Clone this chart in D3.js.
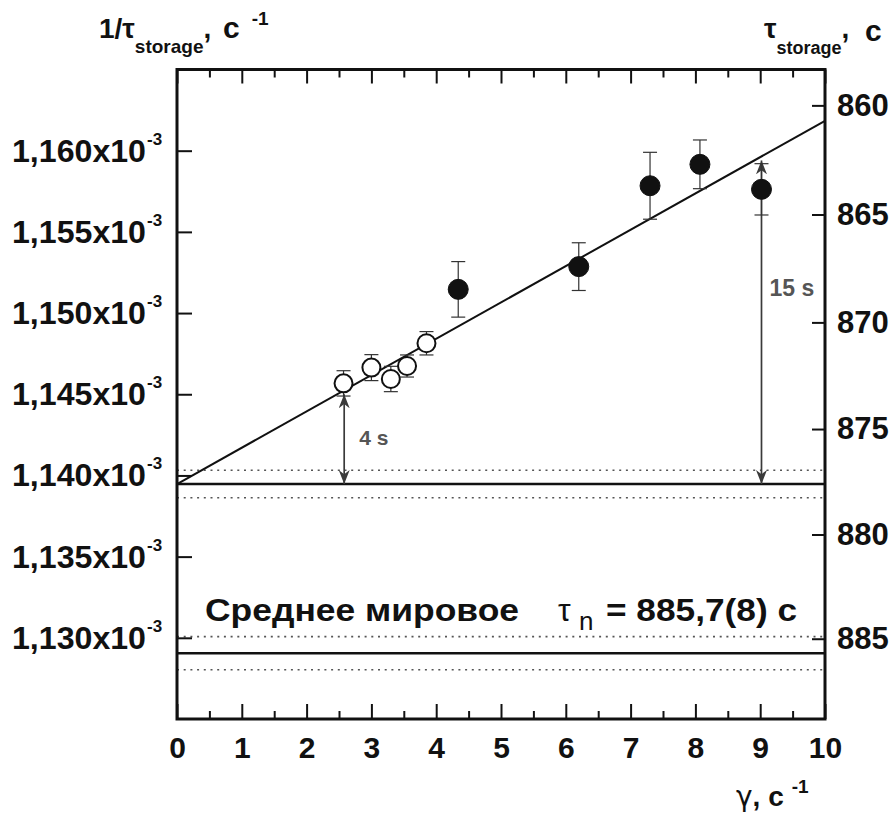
<!DOCTYPE html>
<html><head><meta charset="utf-8">
<script src="https://cdn.jsdelivr.net/npm/d3@7"></script>
<style>body{margin:0;background:#fff}svg{display:block}text{font-family:"Liberation Sans",Arial,sans-serif}</style>
</head><body>
<svg id="c" width="896" height="823"></svg>
<script>
// ---- data ----
const gammaOpen = [2.57, 3.00, 3.30, 3.55, 3.85];
const rateOpen  = [1.14567e-3, 1.14664e-3, 1.14594e-3, 1.14674e-3, 1.14814e-3];
const errOpen   = [0.00078e-3, 0.00080e-3, 0.00078e-3, 0.00068e-3, 0.00072e-3];
const gammaFilled = [4.34, 6.20, 7.30, 8.07, 9.02];
const rateFilled  = [1.15146e-3, 1.15286e-3, 1.15784e-3, 1.15916e-3, 1.15762e-3];
const errFilled   = [0.00171e-3, 0.00147e-3, 0.00206e-3, 0.00150e-3, 0.00158e-3];
const fitIntercept = 1 / 877.6;     // 1/tau at gamma = 0
const fitSlope = 2.237e-6;          // per unit gamma
const tauExtrap = 877.6, dTauExtrap = 0.65;
const tauWorld = 885.7, dTauWorld = 0.8;
const leftTicks = [1.130e-3, 1.135e-3, 1.140e-3, 1.145e-3, 1.150e-3, 1.155e-3, 1.160e-3];
const leftTickLabels = ["1,130x10", "1,135x10", "1,140x10", "1,145x10", "1,150x10", "1,155x10", "1,160x10"];
const rightTicks = [860, 865, 870, 875, 880, 885];
const xTicks = [0,1,2,3,4,5,6,7,8,9,10];
const xMinor = [0.5,1.5,2.5,3.5,4.5,5.5,6.5,7.5,8.5,9.5];
const arrows = [{g: 2.58, label: "4 s"}, {g: 9.02, label: "15 s"}];

// ---- layout ----
const L = 177, R = 825, T = 69.5, B = 719;
const x = d3.scaleLinear().domain([0, 10]).range([L, R]);
const y = d3.scaleLinear().domain([1.125e-3, 1.165e-3]).range([B, T]);
const svg = d3.select("#c");
svg.append("rect").attr("width", 896).attr("height", 823).attr("fill", "#fff");

const defs = svg.append("defs");
defs.append("marker").attr("id", "ah").attr("viewBox", "0 0 10 10").attr("refX", 10).attr("refY", 5)
  .attr("markerWidth", 14).attr("markerHeight", 11).attr("markerUnits", "userSpaceOnUse")
  .attr("orient", "auto-start-reverse").attr("preserveAspectRatio", "none")
  .append("path").attr("d", "M0,0 L10,5 L0,10 L3,5 Z").attr("fill", "#3a3a3a");

// horizontal reference lines
function hline(v, dotted) {
  svg.append("line").attr("x1", L).attr("x2", R).attr("y1", y(v)).attr("y2", y(v))
    .attr("stroke", dotted ? "#555" : "#111").attr("stroke-width", dotted ? 1.6 : 2.4)
    .attr("stroke-dasharray", dotted ? "2,4.7" : null);
}
hline(1 / tauExtrap, false);
hline(1 / (tauExtrap - dTauExtrap), true);
hline(1 / (tauExtrap + dTauExtrap), true);
hline(1 / tauWorld, false);
hline(1 / (tauWorld - dTauWorld), true);
hline(1 / (tauWorld + dTauWorld), true);

// fit line
svg.append("line").attr("x1", x(0)).attr("x2", x(10))
  .attr("y1", y(fitIntercept)).attr("y2", y(fitIntercept + fitSlope * 10))
  .attr("stroke", "#111").attr("stroke-width", 2);

// arrows
arrows.forEach(a => {
  const yTop = y(fitIntercept + fitSlope * a.g) + 4;
  const yBot = y(1 / tauExtrap);
  svg.append("line").attr("x1", x(a.g)).attr("x2", x(a.g)).attr("y1", yTop).attr("y2", yBot)
    .attr("stroke", "#3a3a3a").attr("stroke-width", 1.7)
    .attr("marker-start", "url(#ah)").attr("marker-end", "url(#ah)");
});
svg.append("text").attr("x", x(2.58) + 15).attr("y", 445).attr("font-size", 21).attr("font-weight", "bold")
  .attr("fill", "#555").text(arrows[0].label);
svg.append("text").attr("x", x(9.02) + 8).attr("y", 296).attr("font-size", 23).attr("font-weight", "bold")
  .attr("fill", "#555").text(arrows[1].label);

// error bars + points
function points(gs, vs, es, filled) {
  gs.forEach((g, i) => {
    const cx = x(g), y1 = y(vs[i] + es[i]), y2 = y(vs[i] - es[i]);
    const eb = svg.append("g").attr("stroke", "#333").attr("stroke-width", 1.2);
    eb.append("line").attr("x1", cx).attr("x2", cx).attr("y1", y1).attr("y2", y2);
    eb.append("line").attr("x1", cx - 7).attr("x2", cx + 7).attr("y1", y1).attr("y2", y1);
    eb.append("line").attr("x1", cx - 7).attr("x2", cx + 7).attr("y1", y2).attr("y2", y2);
  });
  gs.forEach((g, i) => {
    svg.append("circle").attr("cx", x(g)).attr("cy", y(vs[i]))
      .attr("r", filled ? 10 : 9)
      .attr("fill", filled ? "#111" : "#fff").attr("stroke", "#111").attr("stroke-width", filled ? 1 : 2);
  });
}
points(gammaOpen, rateOpen, errOpen, false);
points(gammaFilled, rateFilled, errFilled, true);

// frame
svg.append("rect").attr("x", L).attr("y", T).attr("width", R - L).attr("height", B - T)
  .attr("fill", "none").attr("stroke", "#111").attr("stroke-width", 3);

// bottom/top axes (ticks inward)
const bottomAxis = d3.axisBottom(x).tickValues(xTicks).tickSize(-15).tickFormat(d => d).tickPadding(18);
const gb = svg.append("g").attr("transform", `translate(0,${B})`).call(bottomAxis);
gb.select(".domain").remove();
gb.selectAll("line").attr("stroke", "#111").attr("stroke-width", 2);
gb.selectAll("text").attr("font-size", 30).attr("font-weight", "bold").attr("fill", "#111")
  .attr("font-family", "Liberation Sans, Arial, sans-serif");
const gbm = svg.append("g").attr("transform", `translate(0,${B})`)
  .call(d3.axisBottom(x).tickValues(xMinor).tickSize(-8).tickFormat(""));
gbm.select(".domain").remove();
gbm.selectAll("line").attr("stroke", "#111").attr("stroke-width", 2);
const gt = svg.append("g").attr("transform", `translate(0,${T})`)
  .call(d3.axisTop(x).tickValues(xTicks).tickSize(-14).tickFormat(""));
gt.select(".domain").remove();
gt.selectAll("line").attr("stroke", "#111").attr("stroke-width", 2);
const gtm = svg.append("g").attr("transform", `translate(0,${T})`)
  .call(d3.axisTop(x).tickValues(xMinor).tickSize(-8).tickFormat(""));
gtm.select(".domain").remove();
gtm.selectAll("line").attr("stroke", "#111").attr("stroke-width", 2);

// left axis
const gl = svg.append("g").attr("transform", `translate(${L},0)`)
  .call(d3.axisLeft(y).tickValues(leftTicks).tickSize(-15).tickFormat(""));
gl.select(".domain").remove();
gl.selectAll("line").attr("stroke", "#111").attr("stroke-width", 2);
leftTicks.forEach((v, i) => {
  svg.append("text").attr("x", 146).attr("y", y(v) + 11).attr("text-anchor", "end")
    .attr("font-size", 31).attr("font-weight", "bold").attr("fill", "#111")
    .attr("textLength", 134).attr("lengthAdjust", "spacingAndGlyphs").text(leftTickLabels[i]);
  svg.append("text").attr("x", 147).attr("y", y(v) - 6).attr("font-size", 17).attr("font-weight", "bold")
    .attr("fill", "#111").text("-3");
});

// right axis: tau, positioned at 1/tau
const gr = svg.append("g").attr("transform", `translate(${R},0)`)
  .call(d3.axisRight(y).tickValues(rightTicks.map(t => 1 / t)).tickSize(-13)
    .tickFormat((d, i) => rightTicks[i]).tickPadding(12));
gr.select(".domain").remove();
gr.selectAll("line").attr("stroke", "#111").attr("stroke-width", 2);
gr.selectAll("text").attr("font-size", 31).attr("font-weight", "bold").attr("fill", "#111")
  .attr("font-family", "Liberation Sans, Arial, sans-serif");

// axis titles
const tl = svg.append("text").attr("x", 99).attr("y", 38).attr("font-weight", "bold").attr("fill", "#111");
tl.append("tspan").attr("font-size", 28).text("1/τ");
tl.append("tspan").attr("font-size", 19).attr("dy", 15).text("storage");
tl.append("tspan").attr("font-size", 28).attr("dy", -15).text(", ");
tl.append("tspan").attr("font-size", 30).attr("dx", 4).text("c");
tl.append("tspan").attr("font-size", 19).attr("dy", -13).attr("dx", 12).text("-1");

const tr = svg.append("text").attr("x", 764).attr("y", 38).attr("font-weight", "bold").attr("fill", "#111");
tr.append("tspan").attr("font-size", 28).text("τ");
tr.append("tspan").attr("font-size", 18).attr("dy", 16).text("storage");
tr.append("tspan").attr("font-size", 28).attr("dy", -16).text(", ");
tr.append("tspan").attr("font-size", 30).attr("dx", 8).attr("dy", 3).text("c");

const xl = svg.append("text").attr("x", 736).attr("y", 806).attr("font-weight", "bold").attr("fill", "#111");
xl.append("tspan").attr("font-size", 28).attr("font-family", "DejaVu Sans, sans-serif").attr("font-weight", "normal").text("γ");
xl.append("tspan").attr("font-size", 28).text(", c");
xl.append("tspan").attr("font-size", 19).attr("dy", -13).attr("dx", 8).text("-1");

// annotation
const ann = {y: 621};
svg.append("text").attr("x", 205).attr("y", ann.y).attr("font-size", 32).attr("font-weight", "bold")
  .attr("textLength", 314).attr("lengthAdjust", "spacingAndGlyphs").attr("fill", "#111").text("Среднее мировое");
svg.append("text").attr("x", 558).attr("y", ann.y).attr("font-size", 32)
  .attr("fill", "#111").text("τ");
svg.append("text").attr("x", 579).attr("y", ann.y + 9).attr("font-size", 26)
  .attr("fill", "#111").text("n");
svg.append("text").attr("x", 606).attr("y", ann.y).attr("font-size", 32).attr("font-weight", "bold")
  .attr("textLength", 191).attr("lengthAdjust", "spacingAndGlyphs").attr("fill", "#111").text("= 885,7(8) c");
</script>
</body></html>
